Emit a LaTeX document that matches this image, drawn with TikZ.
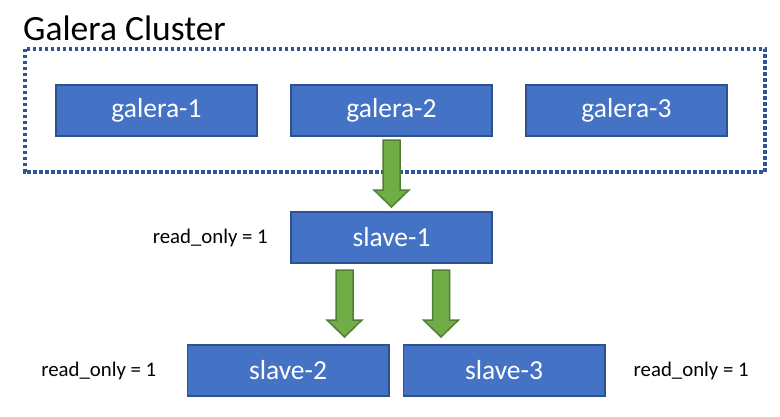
\documentclass[tikz,border=0pt]{standalone}
\usepackage{fontspec}
\setmainfont{Carlito}
\usetikzlibrary{positioning, calc}
\definecolor{nodeBlue}{RGB}{68,114,196}
\definecolor{nodeEdge}{RGB}{47,82,143}
\definecolor{flowGreen}{RGB}{112,173,71}
\definecolor{flowEdge}{RGB}{80,126,50}
\definecolor{clusterEdge}{RGB}{47,85,151}

\begin{document}
\begin{tikzpicture}[x=1pt, y=-1pt,
    box/.style={draw=nodeEdge, fill=nodeBlue, line width=1.6pt, minimum width=201.4pt, minimum height=51.4pt, inner sep=0pt, text=white, font=\fontsize{27.5}{30}\selectfont},
    lbl/.style={font=\fontsize{20.8}{24}\selectfont, inner sep=0pt},
    flow/.style={draw=flowEdge, fill=flowGreen, line width=1.5pt, line join=miter},
    frame/.style={draw=clusterEdge, line width=3.8pt, dash pattern=on 3.6pt off 2.4pt}
  ]
    \newcommand{\flowarrow}[2]{% #1 top of shaft, #2 tip (only its y is used)
      \draw[flow] let \p1=#1, \p2=#2 in
        (\x1-8.5,\y1) -- (\x1+8.5,\y1) -- (\x1+8.5,\y2+17) -- (\x1+17.5,\y2+17)
        -- (\x1,\y2) -- (\x1-17.5,\y2+17) -- (\x1-8.5,\y2+17) -- cycle;
    }
    \useasboundingbox (0,0) rectangle (780,416);

    % Cluster
    \node[anchor=base west, font=\fontsize{35.5}{40}\selectfont, inner sep=0pt] (title) at (23,40) {Galera Cluster};
    \draw[frame] (24.8,48.8) rectangle (765.2,172.2);

    \node[box] (g1) at (156.5,110.5) {galera-1};
    \node[box, right=32pt of g1] (g2) {galera-2};
    \node[box, right=32pt of g2] (g3) {galera-3};

    % Slaves
    \node[box, below=74pt of g2] (s1) {slave-1};
    \node[box] (s2) at (288,370.5) {slave-2};
    \node[box, right=13pt of s2] (s3) {slave-3};

    \node[lbl, left=22pt of s1] (ro1) {read\_only = 1};
    \node[lbl, left=30pt of s2] (ro2) {read\_only = 1};
    \node[lbl, right=28pt of s3] (ro3) {read\_only = 1};

    % Replication
    \flowarrow{($(g2.south)+(0,3)$)}{($(s1.north)+(0,-4)$)}
    \flowarrow{($(s1.south)+(-47,6)$)}{($(s2.north)+(0,-7)$)}
    \flowarrow{($(s1.south)+(49.5,6)$)}{($(s3.north)+(0,-7)$)}
  \end{tikzpicture}
\end{document}
